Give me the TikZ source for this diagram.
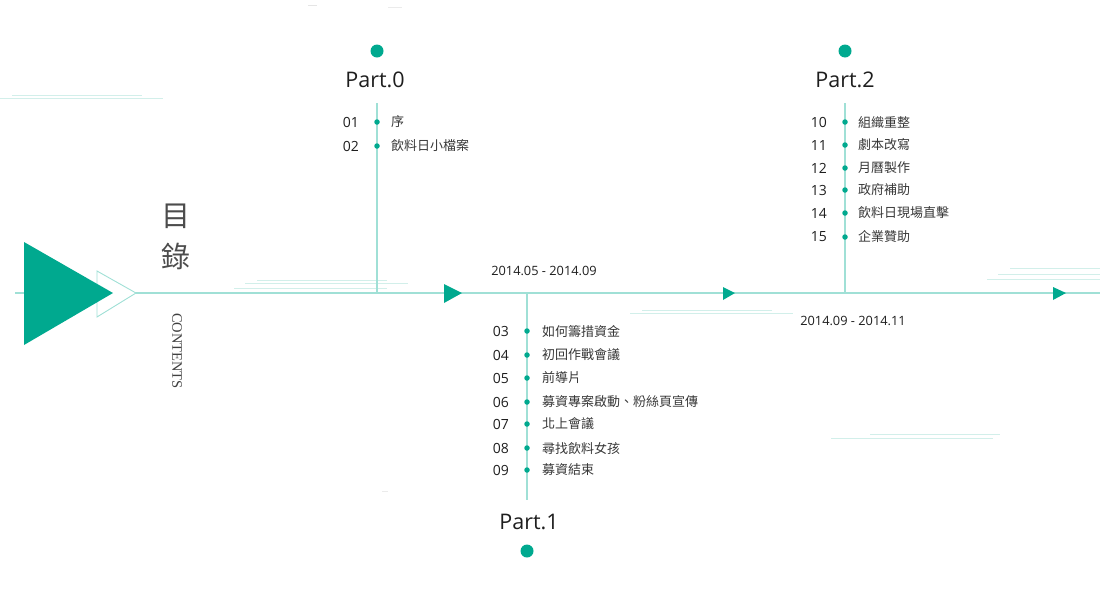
\documentclass[tikz,border=0pt]{standalone}
\usepackage{fontspec}
\setmainfont{Open Sans}
\newfontfamily\cjk{Noto Sans CJK TC}
\newfontfamily\serifC{Liberation Serif}
\definecolor{teal1}{RGB}{0,169,143}
\definecolor{lightl}{RGB}{160,224,214}
\definecolor{faint}{RGB}{210,239,234}
\definecolor{txt}{RGB}{30,30,30}
\definecolor{cjktxt}{RGB}{55,55,55}
\tikzset{
  mainline/.style={draw=lightl, line width=1.3pt},
  vline/.style={draw=lightl, line width=1.1pt},
  deco/.style={draw=faint, line width=1pt},
  bigdot/.style={circle, fill=teal1, inner sep=0pt, minimum size=13pt},
  smalldot/.style={circle, fill=teal1, inner sep=0pt, minimum size=5.5pt},
  parttxt/.style={text=txt, font=\fontsize{21.5}{24}\selectfont, inner sep=0pt},
  numtxt/.style={text=txt, font=\fontsize{14}{16}\selectfont, anchor=east, inner sep=0pt},
  itemtxt/.style={text=cjktxt, font=\cjk\fontsize{13}{15}\selectfont, anchor=west, inner sep=0pt},
  datetxt/.style={text=txt, font=\fontsize{12.8}{15}\selectfont, inner sep=0pt},
  titletxt/.style={text=black!70, font=\cjk\fontsize{29}{32}\selectfont, inner sep=0pt},
  arrowtri/.style={fill=teal1, draw=none},
}
\begin{document}
\begin{tikzpicture}[x=1pt,y=-1pt]
\useasboundingbox (0,0) rectangle (1100,603);
% decorative faint lines
\draw[deco] (12,95) -- (142,95);
\draw[deco] (0,98) -- (163,98);
\draw[deco] (257,280) -- (387,280);
\draw[deco] (245,283) -- (408,283);
\draw[deco] (234,288) -- (387,288);
\draw[deco] (642,310) -- (772,310);
\draw[deco] (630,313) -- (793,313);
\draw[deco] (1010,268) -- (1100,268);
\draw[deco] (998,274) -- (1100,274);
\draw[deco] (987,279) -- (1100,279);
\draw[deco] (870,434) -- (1000,434);
\draw[deco] (831,438) -- (993,438);
\draw[draw=black!10, line width=0.6pt] (308,5) -- (317,5);
\draw[draw=black!8, line width=0.6pt] (388,7) -- (402,7);
\draw[draw=black!8, line width=0.6pt] (382,491) -- (388,491);
% main line
\coordinate (ls) at (15,293);
\coordinate (le) at (1100,293);
\draw[mainline] (ls) -- (le);
% big triangles
\draw[draw=lightl, line width=0.9pt, fill=white] (97,271) -- (136,293) -- (97,317) -- cycle;
\fill[teal1] (24,242) -- (113,293) -- (24,345) -- cycle;
% title
\node[titletxt] (t1) at (176,216) {目};
\node[titletxt] (t2) at (176,256) {錄};
\node[text=black!75, font=\serifC\fontsize{14.5}{16}\selectfont, rotate=-90, inner sep=0pt] (ct) at (177,351) {CONTENTS};
% arrow markers on main line
\fill[arrowtri] (444,284) -- (462,293) -- (444,303) -- cycle;
\fill[arrowtri] (723,287) -- (735,293) -- (723,300) -- cycle;
\fill[arrowtri] (1053,287) -- (1066,293) -- (1053,300) -- cycle;
% Part.0
\coordinate (p0top) at (377,103);
\coordinate (p0bot) at (377,293);
\draw[vline] (p0top) -- (p0bot);
\node[bigdot] (d0) at (377,51) {};
\node[parttxt] (part0) at (375,80) {Part.0};
\foreach \n/\t/\y in {01/序/122, 02/飲料日小檔案/146}{
  \node[numtxt] (n\n) at (359,\y) {\n};
  \node[smalldot] (s\n) at (377,\y) {};
  \node[itemtxt] (i\n) at (391,\y) {\t};
}
% Part.1
\coordinate (p1top) at (527,293);
\coordinate (p1bot) at (527,500);
\draw[vline] (p1top) -- (p1bot);
\node[datetxt] (date1) at (544,271) {2014.05 - 2014.09};
\node[parttxt] (part1) at (529,522) {Part.1};
\node[bigdot] (d1) at (527,551) {};
\foreach \n/\t/\y in {03/如何籌措資金/331, 04/初回作戰會議/355, 05/前導片/378, 06/募資專案啟動、粉絲頁宣傳/402, 07/北上會議/424, 08/尋找飲料女孩/448, 09/募資結束/470}{
  \node[numtxt] (n\n) at (509,\y) {\n};
  \node[smalldot] (s\n) at (527,\y) {};
  \node[itemtxt] (i\n) at (542,\y) {\t};
}
% Part.2
\coordinate (p2top) at (845,103);
\coordinate (p2bot) at (845,293);
\draw[vline] (p2top) -- (p2bot);
\node[bigdot] (d2) at (845,51) {};
\node[parttxt] (part2) at (845,80) {Part.2};
\node[datetxt] (date2) at (853,321) {2014.09 - 2014.11};
\foreach \n/\t/\y in {10/組織重整/122, 11/劇本改寫/145, 12/月曆製作/168, 13/政府補助/190, 14/飲料日現場直擊/213, 15/企業贊助/237}{
  \node[numtxt] (n\n) at (827,\y) {\n};
  \node[smalldot] (s\n) at (845,\y) {};
  \node[itemtxt] (i\n) at (858,\y) {\t};
}
\end{tikzpicture}
\end{document}
